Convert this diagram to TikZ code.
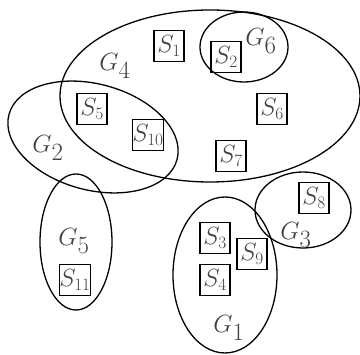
\documentclass[tikz,border=0pt]{standalone}
\begin{document}
\begin{tikzpicture}[x=1pt,y=-1pt,
  grp/.style={draw=black,line width=1.3pt},
  sbox/.style={draw=black,line width=1.1pt,minimum width=30pt,minimum height=31pt,inner sep=0pt,
    text=black!75,font=\fontsize{24}{26}\selectfont},
  glabel/.style={text=black!75,inner sep=0pt,font=\fontsize{36}{40}\selectfont}]
\useasboundingbox (0,0) rectangle (360,355);
% groups
\draw[grp] (210,96) ellipse [x radius=150, y radius=86];
\draw[grp] (244,47) ellipse [x radius=44, y radius=35];
\draw[grp] (93,137) ellipse [x radius=87, y radius=53, rotate=-15];
\draw[grp] (76,242) ellipse [x radius=36, y radius=68];
\draw[grp] (225,275) ellipse [x radius=52, y radius=78];
\draw[grp] (303,210) ellipse [x radius=48, y radius=38];
% group labels
\node[glabel] (g6) at (261,41) {$G_6$};
\node[glabel] (g4) at (115,66) {$G_4$};
\node[glabel] (g2) at (48,148) {$G_2$};
\node[glabel] (g5) at (74,241) {$G_5$};
\node[glabel] (g3) at (296,235) {$G_3$};
\node[glabel] (g1) at (229,328) {$G_1$};
% sets
\node[sbox] (s1) at (169,46) {$S_1$};
\node[sbox] (s2) at (226,57) {$S_2$};
\node[sbox] (s5) at (92,109) {$S_5$};
\node[sbox] (s10) at (148,135) {$S_{10}$};
\node[sbox] (s6) at (272,109) {$S_6$};
\node[sbox] (s7) at (231,156) {$S_7$};
\node[sbox] (s8) at (314,198) {$S_8$};
\node[sbox] (s3) at (215,238) {$S_3$};
\node[sbox] (s9) at (252,254) {$S_9$};
\node[sbox] (s4) at (215,280) {$S_4$};
\node[sbox] (s11) at (75,280) {$S_{11}$};
\end{tikzpicture}
\end{document}
